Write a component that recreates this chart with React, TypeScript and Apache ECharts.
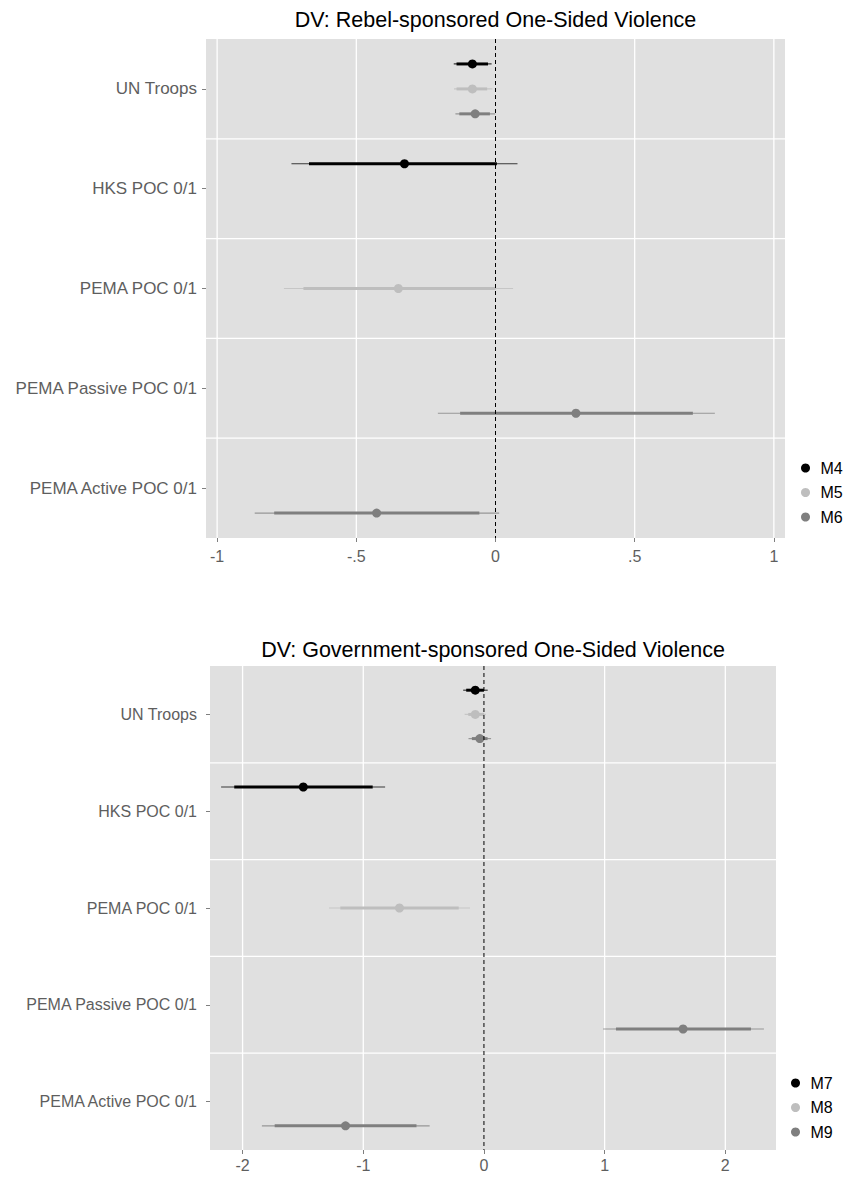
import React, { useEffect, useRef } from "react";
import * as echarts from "echarts";

// ---------- data ----------
const categories = [
  "UN Troops",
  "HKS POC 0/1",
  "PEMA POC 0/1",
  "PEMA Passive POC 0/1",
  "PEMA Active POC 0/1",
];

const rebelTitle = "DV: Rebel-sponsored One-Sided Violence";
const govTitle = "DV: Government-sponsored One-Sided Violence";

const rebelModels = ["M4", "M5", "M6"];
const govModels = ["M7", "M8", "M9"];

const rebelTickValues = [-1, -0.5, 0, 0.5, 1];
const rebelTickLabels = ["-1", "-.5", "0", ".5", "1"];
const govTickValues = [-2, -1, 0, 1, 2];
const govTickLabels = ["-2", "-1", "0", "1", "2"];

const rebelXRange = [-1.04, 1.04];
const govXRange = [-2.27, 2.42];

// rows: [categoryIndex, estimate, innerLow, innerHigh, outerLow, outerHigh]
const rebelM4 = [
  [0, -0.083, -0.14, -0.027, -0.15, -0.014],
  [1, -0.327, -0.67, 0.005, -0.733, 0.079],
];
const rebelM5 = [
  [0, -0.083, -0.14, -0.03, -0.149, -0.011],
  [2, -0.349, -0.69, 0.0, -0.76, 0.063],
];
const rebelM6 = [
  [0, -0.073, -0.13, -0.02, -0.144, -0.001],
  [3, 0.289, -0.127, 0.709, -0.207, 0.788],
  [4, -0.427, -0.795, -0.058, -0.865, 0.013],
];
const govM7 = [
  [0, -0.072, -0.147, 0.0, -0.172, 0.031],
  [1, -1.497, -2.069, -0.922, -2.178, -0.819],
];
const govM8 = [
  [0, -0.072, -0.13, 0.0, -0.16, 0.016],
  [2, -0.7, -1.19, -0.209, -1.284, -0.116],
];
const govM9 = [
  [0, -0.034, -0.1, 0.03, -0.128, 0.059],
  [3, 1.65, 1.094, 2.2125, 0.9875, 2.32],
  [4, -1.147, -1.734, -0.559, -1.84, -0.45],
];

// ---------- styling ----------
const FONT = "'Liberation Sans', Arial, Helvetica, sans-serif";
const modelColors = ["#000000", "#bebebe", "#7f7f7f"];
const modelOffsets = [-0.25, 0, 0.25];
const PANEL_BG = "#e0e0e0";
const AXIS_TEXT = "#5e5e5e";

type PanelCfg = {
  idx: number;
  title: string;
  models: string[];
  rows: number[][][];
  xRange: number[];
  tickValues: number[];
  tickLabels: string[];
  grid: { left: number; top: number; width: number; height: number };
  titleY: number;
  legend: { left: number; top: number };
  catFont: number;
  catMargin: number;
  xMargin: number;
};

function buildPanel(cfg: PanelCfg) {
  const { idx } = cfg;
  const catValues = categories.map((_, i) => i + 1);
  const grid = {
    ...cfg.grid,
    show: true,
    backgroundColor: PANEL_BG,
    borderWidth: 0,
    containLabel: false,
  };
  const xAxis = {
    type: "value",
    gridIndex: idx,
    position: "bottom",
    min: cfg.xRange[0],
    max: cfg.xRange[1],
    axisLine: { show: false, onZero: false },
    splitLine: { show: false },
    axisTick: {
      show: true,
      customValues: cfg.tickValues,
      length: 4,
      lineStyle: { color: "#7f7f7f", width: 1 },
    },
    axisLabel: {
      customValues: cfg.tickValues,
      formatter: (v: number) => {
        const k = cfg.tickValues.findIndex((t) => Math.abs(t - v) < 1e-9);
        return k >= 0 ? cfg.tickLabels[k] : String(v);
      },
      fontSize: 16,
      color: AXIS_TEXT,
      fontFamily: FONT,
      margin: cfg.xMargin,
    },
  };
  const yAxis = {
    type: "value",
    gridIndex: idx,
    position: "left",
    min: 0.5,
    max: categories.length + 0.5,
    inverse: true,
    axisLine: { show: false, onZero: false },
    splitLine: { show: false },
    axisTick: {
      show: true,
      customValues: catValues,
      length: 4,
      lineStyle: { color: "#7f7f7f", width: 1 },
    },
    axisLabel: {
      customValues: catValues,
      formatter: (v: number) => categories[Math.round(v) - 1] ?? "",
      fontSize: cfg.catFont,
      color: AXIS_TEXT,
      fontFamily: FONT,
      margin: cfg.catMargin,
    },
  };

  const vGrid = {
    type: "custom",
    name: "vgrid" + idx,
    xAxisIndex: idx,
    yAxisIndex: idx,
    z: 1,
    silent: true,
    encode: { x: 0, y: 1 },
    data: cfg.tickValues.filter((v) => v !== 0).map((v) => [v, 1]),
    renderItem: (params: any, api: any) => {
      const cs = params.coordSys;
      const x = api.coord([api.value(0), 1])[0];
      return {
        type: "line",
        shape: { x1: x, y1: cs.y, x2: x, y2: cs.y + cs.height },
        style: { stroke: "#ffffff", lineWidth: 1.3 },
      };
    },
  };
  const hGrid = {
    type: "custom",
    name: "hgrid" + idx,
    xAxisIndex: idx,
    yAxisIndex: idx,
    z: 1,
    silent: true,
    encode: { x: 0, y: 1 },
    data: categories.slice(1).map((_, i) => [0, i + 1.5]),
    renderItem: (params: any, api: any) => {
      const cs = params.coordSys;
      const y = api.coord([0, api.value(1)])[1];
      return {
        type: "line",
        shape: { x1: cs.x, y1: y, x2: cs.x + cs.width, y2: y },
        style: { stroke: "#ffffff", lineWidth: 1.3 },
      };
    },
  };
  const zeroLine = {
    type: "custom",
    name: "zero" + idx,
    xAxisIndex: idx,
    yAxisIndex: idx,
    z: 10,
    silent: true,
    encode: { x: 0, y: 1 },
    data: [[0, 1]],
    renderItem: (params: any, api: any) => {
      const cs = params.coordSys;
      const x = api.coord([api.value(0), 1])[0];
      return {
        type: "line",
        shape: { x1: x, y1: cs.y, x2: x, y2: cs.y + cs.height },
        style: { stroke: "#000000", lineWidth: 1, lineDash: [4, 3] },
      };
    },
  };

  const modelSeries = cfg.models.map((name, m) => ({
    type: "custom",
    name,
    xAxisIndex: idx,
    yAxisIndex: idx,
    z: 5,
    itemStyle: { color: modelColors[m] },
    encode: { x: [1, 2, 3, 4, 5], y: 0 },
    data: cfg.rows[m].map((r) => [r[0] + 1 + modelOffsets[m], r[1], r[2], r[3], r[4], r[5]]),
    renderItem: (params: any, api: any) => {
      const y = api.value(0);
      const color = api.visual("color");
      const pe = api.coord([api.value(1), y]);
      const pil = api.coord([api.value(2), y]);
      const pih = api.coord([api.value(3), y]);
      const pol = api.coord([api.value(4), y]);
      const poh = api.coord([api.value(5), y]);
      return {
        type: "group",
        children: [
          {
            type: "line",
            shape: { x1: pol[0], y1: pe[1], x2: poh[0], y2: pe[1] },
            style: { stroke: color, lineWidth: 1.2, opacity: 0.75 },
          },
          {
            type: "line",
            shape: { x1: pil[0], y1: pe[1], x2: pih[0], y2: pe[1] },
            style: { stroke: color, lineWidth: 3 },
          },
          {
            type: "circle",
            shape: { cx: pe[0], cy: pe[1], r: 4.5 },
            style: { fill: color },
          },
        ],
      };
    },
  }));

  const legend = {
    orient: "vertical",
    left: cfg.legend.left,
    top: cfg.legend.top,
    itemWidth: 20,
    itemHeight: 9,
    itemGap: 8.5,
    icon: "circle",
    selectedMode: false,
    data: cfg.models,
    textStyle: { fontSize: 16, color: "#000", fontFamily: FONT },
  };

  const title = {
    type: "text",
    x: cfg.grid.left + cfg.grid.width / 2,
    y: cfg.titleY,
    style: {
      text: cfg.title,
      textAlign: "center",
      textVerticalAlign: "middle",
      fontSize: 21.5,
      fontFamily: FONT,
      fill: "#000",
    },
  };

  return { grid, xAxis, yAxis, series: [vGrid, hGrid, ...modelSeries, zeroLine], legend, title };
}

export default function App() {
  const ref = useRef<HTMLDivElement>(null);

  useEffect(() => {
    if (!ref.current) return;
    const chart = echarts.init(ref.current, undefined, { renderer: "svg" });

    const top = buildPanel({
      idx: 0,
      title: rebelTitle,
      models: rebelModels,
      rows: [rebelM4, rebelM5, rebelM6],
      xRange: rebelXRange,
      tickValues: rebelTickValues,
      tickLabels: rebelTickLabels,
      grid: { left: 206, top: 39, width: 579, height: 499 },
      titleY: 20,
      legend: { left: 796, top: 455 },
      catFont: 17,
      catMargin: 9,
      xMargin: 10,
    });
    const bottom = buildPanel({
      idx: 1,
      title: govTitle,
      models: govModels,
      rows: [govM7, govM8, govM9],
      xRange: govXRange,
      tickValues: govTickValues,
      tickLabels: govTickLabels,
      grid: { left: 210, top: 666, width: 566, height: 484 },
      titleY: 650,
      legend: { left: 786, top: 1070 },
      catFont: 16,
      catMargin: 13,
      xMargin: 7,
    });

    chart.setOption({
      animation: false,
      backgroundColor: "#ffffff",
      textStyle: { fontFamily: FONT },
      grid: [top.grid, bottom.grid],
      xAxis: [top.xAxis, bottom.xAxis],
      yAxis: [top.yAxis, bottom.yAxis],
      legend: [top.legend, bottom.legend],
      graphic: [top.title, bottom.title],
      series: [...top.series, ...bottom.series],
    });

    return () => {
      chart.dispose();
    };
  }, []);

  return (
    <div
      ref={ref}
      style={{ position: "absolute", left: 0, top: 0, width: 849, height: 1180, background: "#fff" }}
    />
  );
}
